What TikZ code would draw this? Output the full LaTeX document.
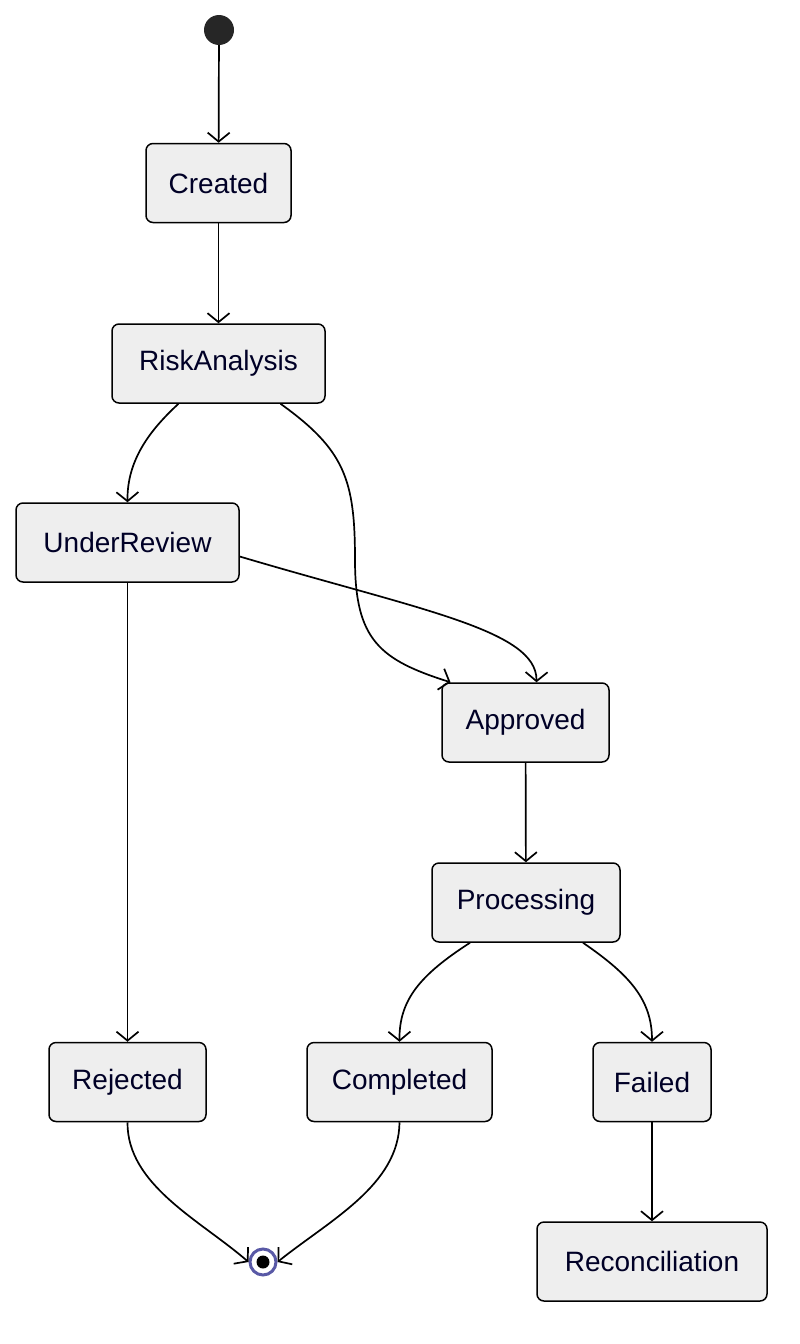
\documentclass[tikz,border=0pt]{standalone}
\usepackage{fontspec}
\setmainfont{Liberation Sans}
\usetikzlibrary{arrows.meta}
\begin{document}
\begin{tikzpicture}[x=1pt,y=-1pt,
  st/.style={draw=black,line width=1.5pt,fill=gray!13,rounded corners=7pt,minimum height=79pt,inner sep=0pt,text=black!85!blue,font=\fontsize{28}{32}\selectfont},
  ar/.style={line width=1.7pt,-{Straight Barb[length=9pt,width=22pt,line width=1.7pt]}}]
\useasboundingbox (0,0) rectangle (800,1344);
\node[circle,fill=black!85,minimum size=30pt,inner sep=0pt] (s) at (219,30) {};
\node[st,minimum width=145pt] (cr) at (218.5,183) {Created};
\node[st,minimum width=213pt] (ra) at (218.5,363.5) {RiskAnalysis};
\node[st,minimum width=223pt] (ur) at (127.5,542.5) {UnderReview};
\node[st,minimum width=167pt] (ap) at (525.5,722.5) {Approved};
\node[st,minimum width=188pt] (pr) at (526,902.5) {Processing};
\node[st,minimum width=157pt] (rj) at (127.5,1082) {Rejected};
\node[st,minimum width=185pt] (co) at (399.5,1082) {Completed};
\node[st,minimum width=118pt] (fa) at (652,1082) {Failed};
\node[st,minimum width=230pt] (rc) at (652,1261.5) {Reconciliation};
\node[circle,draw=gray!70!blue,line width=3pt,fill=white,minimum size=26pt,inner sep=0pt] (e) at (263,1262) {};
\fill (e) circle (6.5pt);
\draw[ar] (s) -- (cr);
\draw[ar] (cr) -- (ra);
\draw[ar] ([xshift=-40pt]ra.south) .. controls (150,430) and (127,460) .. (ur.north);
\draw[ar] ([xshift=62pt]ra.south) .. controls (345,450) and (355,480) .. (355,560) .. controls (355,640) and (380,660) .. ([xshift=-75pt]ap.north);
\draw[ar] ([yshift=-14pt]ur.east) .. controls (420,610) and (537,630) .. ([xshift=11pt]ap.north);
\draw[ar] (ur) -- (rj);
\draw[ar] (ap) -- (pr);
\draw[ar] ([xshift=-56pt]pr.south) .. controls (420,975) and (399,1000) .. (co.north);
\draw[ar] ([xshift=57pt]pr.south) .. controls (630,975) and (652,1000) .. (fa.north);
\draw[ar] (fa) -- (rc);
\draw[ar] (rj.south) .. controls (127,1185) and (200,1220) .. (e.west);
\draw[ar] (co.south) .. controls (399,1185) and (330,1220) .. (e.east);
\end{tikzpicture}
\end{document}
